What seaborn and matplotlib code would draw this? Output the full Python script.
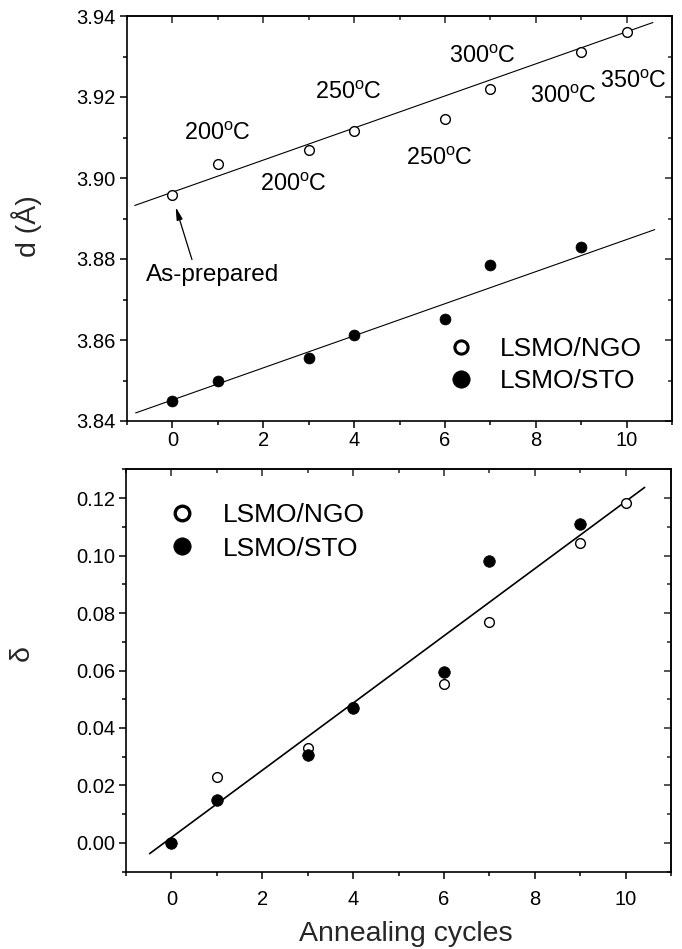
import numpy as np
import pandas as pd
import matplotlib
matplotlib.use("Agg")
import matplotlib.pyplot as plt
from matplotlib.lines import Line2D
from matplotlib.ticker import MultipleLocator, FormatStrFormatter
import seaborn as sns

# Out-of-plane lattice parameter d (Å) after each annealing cycle
cycles_ngo = [0, 1, 3, 4, 6, 7, 9, 10]
d_ngo = [3.8957, 3.9035, 3.9068, 3.9117, 3.9146, 3.9219, 3.9312, 3.9361]
cycles_sto = [0, 1, 3, 4, 6, 7, 9]
d_sto = [3.8449, 3.8500, 3.8556, 3.8612, 3.8653, 3.8785, 3.8830]

# Linear fits: (slope, intercept)
fit_d_ngo = (0.00396, 3.8965)
fit_d_sto = (0.00396, 3.8452)

# Relative change delta after each cycle
delta_ngo = [0.0, 0.0231, 0.0332, 0.0472, 0.0553, 0.0769, 0.1042, 0.1184]
delta_sto = [0.0, 0.0149, 0.0307, 0.0470, 0.0594, 0.0980, 0.1108]
fit_delta = (0.01169, 0.0019)

# Annealing temperatures written next to the NGO points
temp_labels = ["200", "200", "250", "250", "300", "300", "350"]
temp_x = [1.0, 2.67, 3.87, 5.87, 6.83, 8.62, 10.16]
temp_y = [3.9111, 3.8983, 3.9211, 3.9049, 3.9301, 3.9201, 3.9238]

series_names = ["LSMO/NGO", "LSMO/STO"]

sns.set_style("ticks")
plt.rcParams["font.family"] = ["Liberation Sans", "DejaVu Sans"]
plt.rcParams["mathtext.fontset"] = "custom"
plt.rcParams["mathtext.rm"] = "Liberation Sans"
plt.rcParams["mathtext.it"] = "Liberation Sans:italic"
plt.rcParams["axes.linewidth"] = 1.2
plt.rcParams["text.color"] = "black"

fig = plt.figure(figsize=(6.82, 9.49), dpi=100)
ax1 = fig.add_axes([127 / 682, 1 - 421 / 949, 545 / 682, 405 / 949])
ax2 = fig.add_axes([126 / 682, 1 - 871.7 / 949, 545 / 682, 402.4 / 949])

TICK_FS = 14.5
LABEL_FS = 20.5


def style_axis(ax, ymajor, yminor, yfmt, xpad):
    ax.set_xlim(-1, 11)
    ax.xaxis.set_major_locator(MultipleLocator(2))
    ax.xaxis.set_minor_locator(MultipleLocator(1))
    ax.yaxis.set_major_locator(MultipleLocator(ymajor))
    ax.yaxis.set_minor_locator(MultipleLocator(yminor))
    ax.yaxis.set_major_formatter(FormatStrFormatter(yfmt))
    ax.tick_params(which="both", direction="out", top=False, right=False,
                   width=1.1, colors="black", labelsize=TICK_FS)
    ax.tick_params(which="major", length=5)
    ax.tick_params(which="minor", length=3)
    ax.tick_params(axis="x", which="major", pad=xpad)
    ax.tick_params(axis="y", which="major", pad=3.0)
    for s in ax.spines.values():
        s.set_visible(True)
        s.set_linewidth(1.2)
        s.set_color("black")
    # inward ticks on the top and right edges
    top = ax.secondary_xaxis("top")
    top.xaxis.set_major_locator(MultipleLocator(2))
    top.xaxis.set_minor_locator(MultipleLocator(1))
    top.tick_params(which="both", direction="in", labeltop=False, width=1.1)
    top.tick_params(which="major", length=5)
    top.tick_params(which="minor", length=3)
    right = ax.secondary_yaxis("right")
    right.yaxis.set_major_locator(MultipleLocator(ymajor))
    right.yaxis.set_minor_locator(MultipleLocator(yminor))
    right.tick_params(which="both", direction="in", labelright=False, width=1.1)
    right.tick_params(which="major", length=5)
    right.tick_params(which="minor", length=3)


def fit_line(ax, fit, x0, x1, lw):
    xs = np.array([x0, x1])
    ys = fit[0] * xs + fit[1]
    sns.lineplot(x=xs, y=ys, ax=ax, color="black", lw=lw, zorder=2)


# ---------------- top panel: lattice parameter ----------------
fit_line(ax1, fit_d_ngo, -0.83, 10.58, 0.8)
fit_line(ax1, fit_d_sto, -0.81, 10.62, 0.8)
sns.scatterplot(x=cycles_ngo, y=d_ngo, ax=ax1, marker="o", s=49,
                color="white", edgecolor="black", linewidth=1.0,
                zorder=3, legend=False)
sns.scatterplot(x=cycles_sto, y=d_sto, ax=ax1, marker="o", s=62,
                color="black", edgecolor="black", linewidth=0.5,
                zorder=3, legend=False)
ax1.set_ylim(3.84, 3.94)
style_axis(ax1, 0.02, 0.01, "%.2f", 2.5)
ax1.set_xlabel("")
ax1.set_ylabel("d (Å)", fontsize=LABEL_FS)
ax1.yaxis.label.set_va("center")
ax1.yaxis.set_label_coords(-0.1835, 0.481)

for t, x, y in zip(temp_labels, temp_x, temp_y):
    ax1.text(x, y, t + r"$^{\rm o}$C", fontsize=16.8, ha="center",
             va="center")

ax1.annotate("As-prepared", xy=(0.073, 3.8928), xytext=(0.88, 3.8760),
             fontsize=17.5, ha="center", va="center",
             arrowprops=dict(arrowstyle="-|>,head_length=0.75,head_width=0.18",
                             mutation_scale=10, color="black", lw=0.9,
                             relpos=(0.36, 0.95), shrinkA=1, shrinkB=0))

handles_top = [
    Line2D([], [], ls="none", marker="o", ms=9.5, mfc="white",
           mec="black", mew=2.2),
    Line2D([], [], ls="none", marker="o", ms=12.5, mfc="black",
           mec="black", mew=0.5),
]
ax1.legend(handles_top, series_names, loc="center left",
           bbox_to_anchor=(0.588, 0.138), frameon=False, fontsize=19,
           handlelength=1.0, handletextpad=1.0, labelspacing=0.33,
           borderpad=0, borderaxespad=0)

# ---------------- bottom panel: delta ----------------
fit_line(ax2, fit_delta, -0.48, 10.42, 1.2)
sns.scatterplot(x=cycles_ngo, y=delta_ngo, ax=ax2, marker="o", s=49,
                color="white", edgecolor="black", linewidth=1.0,
                zorder=3, legend=False)
sns.scatterplot(x=cycles_sto, y=delta_sto, ax=ax2, marker="o", s=70,
                color="black", edgecolor="black", linewidth=0.5,
                zorder=4, legend=False)
ax2.set_ylim(-0.01, 0.13)
style_axis(ax2, 0.02, 0.01, "%.2f", 8)
ax2.set_xlabel("Annealing cycles", fontsize=LABEL_FS)
ax2.xaxis.set_label_coords(0.513, -0.1225)
ax2.set_ylabel("δ", fontsize=LABEL_FS)
ax2.yaxis.label.set_va("center")
ax2.yaxis.set_label_coords(-0.191, 0.543)

handles_bot = [
    Line2D([], [], ls="none", marker="o", ms=10.5, mfc="white",
           mec="black", mew=2.4),
    Line2D([], [], ls="none", marker="o", ms=12.5, mfc="black",
           mec="black", mew=0.5),
]
ax2.legend(handles_bot, series_names, loc="center left",
           bbox_to_anchor=(0.078, 0.844), frameon=False, fontsize=19,
           handlelength=1.0, handletextpad=1.07, labelspacing=0.35,
           borderpad=0, borderaxespad=0)

fig.savefig("out.png", dpi=100)
